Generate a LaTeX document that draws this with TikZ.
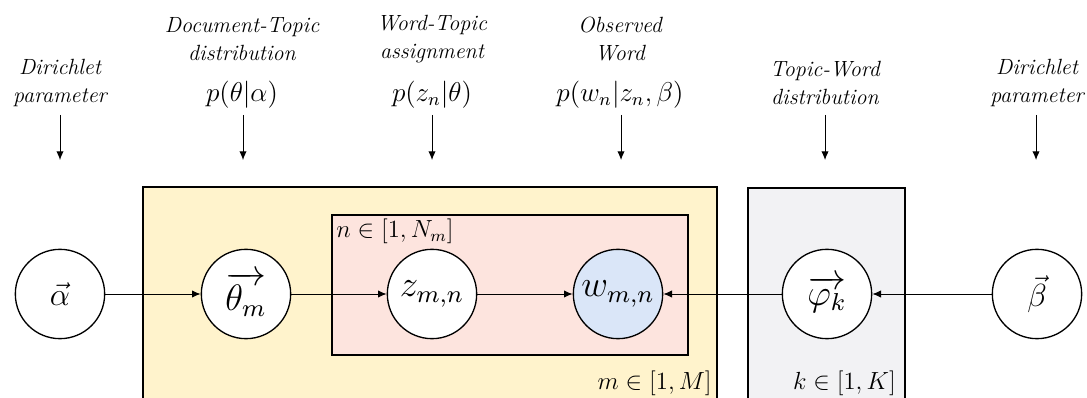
\RequirePackage{fix-cm}
\documentclass[tikz,border=0pt]{standalone}
\usepackage{amsmath}
\usepackage{amssymb}
\usepackage{graphicx}
\usepackage{tikz}
\usetikzlibrary{arrows.meta}

\newcommand{\varmath}[2][2.3]{\scalebox{#1}{$#2$}}
\newcommand{\probmath}[1]{\scalebox{1.7}{$#1$}}
\newcommand{\platemath}[1]{\scalebox{1.55}{$#1$}}

\begin{document}
\begin{tikzpicture}[x=0.75pt,y=0.75pt,yscale=-1,xscale=1,
        var/.style={draw,circle,fill=white,line width=1pt,minimum size=67pt,inner sep=0pt,font=\fontsize{12}{14}\selectfont},
        flow/.style={-{Latex[length=6.5pt,width=5.5pt]},line width=0.7pt},
        caption/.style={align=center,inner sep=0.75pt,font=\fontsize{16.5}{20.5}\selectfont\itshape},
        formula/.style={inner sep=0.75pt,font=\fontsize{12}{14}\selectfont},
        platelabel/.style={inner sep=0.75pt,font=\fontsize{12}{14}\selectfont}]
        \useasboundingbox (0,0) rectangle (1087,398);

        %Shape: Rectangle [document plate]
        \draw  [line width=1pt, fill={rgb, 255:red, 255; green, 243; blue, 204 }] (143,187) rectangle (717,420) ;
        %Shape: Rectangle [word plate]
        \draw  [line width=1pt, fill={rgb, 255:red, 253; green, 228; blue, 222 }] (332,215) rectangle (688,355) ;
        %Shape: Rectangle [topic plate]
        \draw  [line width=1pt, fill={rgb, 255:red, 242; green, 242; blue, 244 }] (748,188) rectangle (905,420) ;

        %Shape: Circle [alpha]
        \node [var] (alpha) at (60,294) {\varmath[2]{\vec{\alpha}}};
        %Shape: Circle [theta]
        \node [var] (theta) at (246,294) {\varmath{\overrightarrow{\theta_m}}};
        %Shape: Circle [z]
        \node [var] (z) at (432,294) {\varmath{z_{m,n}}};
        %Shape: Circle [w]
        \node [var, fill={rgb, 255:red, 218; green, 230; blue, 248 }] (w) at (618,294) {\varmath{w_{m,n}}};
        %Shape: Circle [phi]
        \node [var] (phi) at (827,294) {\varmath{\overrightarrow{\varphi_k}}};
        %Shape: Circle [beta]
        \node [var] (beta) at (1037,294) {\varmath[2]{\vec{\beta}}};

        %Straight Lines
        \draw [flow] (alpha) -- (theta);
        \draw [flow] (theta) -- (z);
        \draw [flow] (z) -- (w);
        \draw [flow] (phi) -- (w);
        \draw [flow] (beta) -- (phi);

        % Text Node
        \node [platelabel, anchor=north west] (nlbl) at (335,218) {\platemath{n\in[1,N_m]}};
        % Text Node
        \node [platelabel, anchor=south east] (mlbl) at (713,397) {\platemath{m\in[1,M]}};
        % Text Node
        \node [platelabel, anchor=south east] (klbl) at (897,397) {\platemath{k\in[1,K]}};

        % Text Node
        \node [caption] (dirl) at (60,83) {Dirichlet\\parameter};
        % Text Node
        \node [caption] (dtlbl) at (242,39) {Document-Topic\\distribution};
        \node [formula] (dtp) at (242,95) {\probmath{p(\theta|\alpha)}};
        % Text Node
        \node [caption] (wtlbl) at (432,39) {Word-Topic\\assignment};
        \node [formula] (wtp) at (432,95) {\probmath{p(z_n|\theta)}};
        % Text Node
        \node [caption] (owlbl) at (620,39) {Observed\\Word};
        \node [formula] (owp) at (620,95) {\probmath{p(w_n|z_n,\beta)}};
        % Text Node
        \node [caption] (twlbl) at (825,83) {Topic-Word\\distribution};
        % Text Node
        \node [caption] (dirr) at (1037,83) {Dirichlet\\parameter};

        %Straight Lines [down arrows]
        \coordinate (ta) at (60,115);   \coordinate (ba) at (60,160);
        \coordinate (tb) at (243,115);  \coordinate (bb) at (243,160);
        \coordinate (tc) at (432,115);  \coordinate (bc) at (432,160);
        \coordinate (td) at (621,115);  \coordinate (bd) at (621,160);
        \coordinate (te) at (825,115);  \coordinate (be) at (825,160);
        \coordinate (tf) at (1036,115); \coordinate (bf) at (1036,160);
        \draw [flow] (ta) -- (ba);
        \draw [flow] (tb) -- (bb);
        \draw [flow] (tc) -- (bc);
        \draw [flow] (td) -- (bd);
        \draw [flow] (te) -- (be);
        \draw [flow] (tf) -- (bf);

    \end{tikzpicture}
\end{document}
